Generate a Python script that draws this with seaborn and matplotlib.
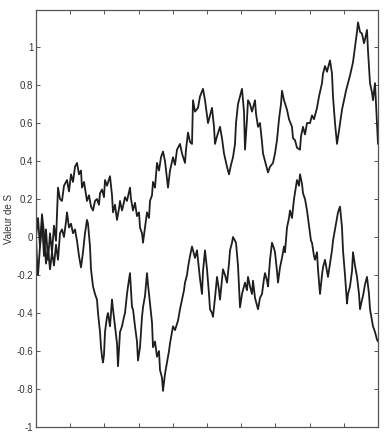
import matplotlib
matplotlib.use("Agg")
import matplotlib.pyplot as plt
import seaborn as sns
import numpy as np
import pandas as pd

# Series A (ends high) : position along axis (0..342) and value of S
pos_a = [0, 2, 4, 6, 8, 10, 12, 14, 16, 18, 20, 22, 24, 26, 28, 31, 33, 35, 37, 39, 41, 43, 45, 46, 48,
         51, 53, 55, 57, 59, 61, 63, 64, 66, 68, 69, 71, 74, 76, 77, 79, 81, 83, 84, 86, 87, 89, 91, 94,
         95, 97, 99, 101, 103, 104, 106, 107, 109, 111, 113, 114, 116, 117, 119, 121, 123, 125, 127, 129,
         132, 134, 137, 139, 141, 144, 146, 149, 150, 152, 154, 156, 157, 159, 162, 164, 167, 169, 172,
         174, 176, 178, 179, 181, 184, 186, 188, 191, 193, 195, 197, 199, 200, 202, 204, 206, 208, 209,
         211, 212, 214, 216, 219, 220, 222, 224, 226, 227, 229, 232, 234, 237, 239, 241, 243, 245, 246,
         248, 251, 253, 256, 257, 259, 261, 264, 265, 267, 269, 271, 274, 276, 278, 281, 283, 286, 287,
         289, 291, 294, 296, 297, 299, 301, 303, 306, 308, 310, 312, 314, 317, 319, 321, 322, 324, 326,
         328, 329, 331, 332, 334, 336, 337, 339, 340, 341, 342]
val_a = [0.00, 0.10, -0.05, 0.08, -0.10, 0.04, -0.12, 0.02, -0.08, 0.06, -0.02, 0.26, 0.20, 0.19, 0.27,
         0.30, 0.24, 0.33, 0.29, 0.37, 0.39, 0.33, 0.35, 0.26, 0.29, 0.19, 0.22, 0.16, 0.14, 0.19, 0.20,
         0.17, 0.23, 0.25, 0.21, 0.30, 0.27, 0.32, 0.22, 0.13, 0.17, 0.09, 0.15, 0.19, 0.14, 0.16, 0.21,
         0.19, 0.26, 0.20, 0.14, 0.18, 0.11, 0.13, 0.05, 0.02, -0.03, 0.05, 0.13, 0.10, 0.19, 0.22, 0.29,
         0.26, 0.39, 0.35, 0.42, 0.45, 0.40, 0.26, 0.35, 0.42, 0.38, 0.46, 0.49, 0.44, 0.39, 0.46, 0.55,
         0.50, 0.49, 0.72, 0.66, 0.68, 0.74, 0.78, 0.72, 0.60, 0.64, 0.68, 0.58, 0.49, 0.53, 0.58, 0.52,
         0.44, 0.37, 0.33, 0.38, 0.42, 0.49, 0.60, 0.70, 0.74, 0.78, 0.66, 0.46, 0.62, 0.72, 0.70, 0.66,
         0.72, 0.65, 0.58, 0.60, 0.50, 0.44, 0.40, 0.34, 0.37, 0.39, 0.44, 0.51, 0.62, 0.70, 0.77, 0.72,
         0.67, 0.62, 0.58, 0.52, 0.51, 0.47, 0.46, 0.53, 0.58, 0.54, 0.60, 0.60, 0.64, 0.62, 0.68, 0.74,
         0.81, 0.86, 0.90, 0.87, 0.93, 0.86, 0.74, 0.60, 0.49, 0.56, 0.67, 0.72, 0.77, 0.81, 0.85, 0.92,
         1.00, 1.08, 1.13, 1.08, 1.07, 1.02, 1.04, 1.09, 0.98, 0.81, 0.76, 0.72, 0.81, 0.70, 0.58, 0.49]

# Series B (ends low)
pos_b = [0, 1, 2, 4, 6, 8, 10, 12, 14, 16, 18, 20, 22, 24, 26, 28, 30, 31, 33, 35, 37, 39, 41, 43, 45,
         47, 49, 51, 52, 54, 55, 57, 59, 61, 62, 64, 65, 66, 67, 68, 69, 71, 72, 74, 76, 77, 79, 81, 82,
         84, 86, 88, 89, 91, 92, 94, 96, 97, 99, 101, 102, 104, 106, 107, 109, 111, 112, 114, 116, 117,
         119, 121, 123, 124, 126, 127, 129, 131, 133, 134, 136, 137, 139, 142, 144, 146, 148, 149, 151,
         152, 154, 156, 158, 159, 161, 162, 164, 166, 167, 169, 171, 173, 174, 176, 177, 179, 181, 183,
         184, 186, 187, 189, 191, 193, 194, 196, 197, 199, 200, 202, 204, 206, 209, 211, 212, 214, 216,
         217, 219, 222, 224, 226, 228, 229, 231, 232, 234, 236, 238, 239, 241, 242, 244, 246, 248, 249,
         251, 253, 254, 256, 258, 261, 263, 264, 266, 267, 269, 271, 273, 275, 276, 278, 279, 281, 282,
         284, 286, 287, 289, 291, 292, 294, 296, 297, 299, 301, 302, 304, 306, 307, 309, 311, 312, 314,
         316, 317, 319, 321, 323, 324, 326, 327, 329, 331, 333, 334, 336, 337, 339, 341, 342]
val_b = [0.00, -0.12, -0.20, -0.05, 0.12, 0.02, -0.14, -0.06, -0.17, -0.08, -0.15, -0.04, -0.12, 0.02,
         0.04, 0.00, 0.08, 0.13, 0.05, 0.07, 0.02, 0.04, -0.02, -0.10, -0.16, -0.08, 0.02, 0.09, 0.07,
         -0.05, -0.17, -0.26, -0.30, -0.33, -0.40, -0.50, -0.58, -0.63, -0.66, -0.62, -0.50, -0.42, -0.40,
         -0.47, -0.33, -0.38, -0.47, -0.56, -0.68, -0.50, -0.47, -0.42, -0.40, -0.30, -0.26, -0.19, -0.37,
         -0.38, -0.47, -0.55, -0.65, -0.58, -0.42, -0.37, -0.31, -0.19, -0.25, -0.35, -0.45, -0.58, -0.55,
         -0.63, -0.60, -0.70, -0.74, -0.81, -0.72, -0.66, -0.60, -0.56, -0.50, -0.47, -0.49, -0.44, -0.38,
         -0.33, -0.28, -0.24, -0.20, -0.16, -0.10, -0.05, -0.09, -0.11, -0.07, -0.12, -0.22, -0.30, -0.18,
         -0.07, -0.17, -0.30, -0.38, -0.40, -0.42, -0.32, -0.21, -0.28, -0.33, -0.22, -0.17, -0.20, -0.24,
         -0.14, -0.07, -0.03, 0.00, -0.02, -0.03, -0.15, -0.37, -0.30, -0.24, -0.28, -0.21, -0.26, -0.30,
         -0.23, -0.32, -0.38, -0.32, -0.30, -0.22, -0.19, -0.23, -0.26, -0.12, -0.03, -0.06, -0.08, -0.18,
         -0.24, -0.16, -0.11, -0.05, -0.08, 0.05, 0.10, 0.14, 0.10, 0.20, 0.30, 0.27, 0.33, 0.28, 0.23,
         0.20, 0.14, 0.06, -0.02, -0.03, -0.10, -0.12, -0.08, -0.17, -0.30, -0.20, -0.16, -0.12, -0.18,
         -0.21, -0.14, -0.07, -0.02, 0.04, 0.10, 0.13, 0.16, 0.05, -0.07, -0.20, -0.35, -0.30, -0.26,
         -0.18, -0.08, -0.15, -0.21, -0.30, -0.38, -0.33, -0.31, -0.25, -0.21, -0.30, -0.38, -0.44, -0.47,
         -0.50, -0.54, -0.55]

y_ticks = [-1, -0.8, -0.6, -0.4, -0.2, 0, 0.2, 0.4, 0.6, 0.8, 1]
y_tick_labels = ["-1", "-0.8", "-0.6", "-0.4", "-0.2", "0", "0.2", "0.4", "0.6", "0.8", "1"]
y_label = "Valeur de S"

n = min(len(pos_a), len(val_a))
m = min(len(pos_b), len(val_b))
df_a = pd.DataFrame({"pos": pos_a[:n], "S": val_a[:n]})
df_b = pd.DataFrame({"pos": pos_b[:m], "S": val_b[:m]})

sns.set_style("white")
plt.rcParams["font.family"] = ["Liberation Sans", "DejaVu Sans"]

fig = plt.figure(figsize=(3.84, 4.33), dpi=100)
ax = fig.add_axes([36 / 384, 6 / 433, 342 / 384, 417 / 433])

sns.lineplot(data=df_a, x="pos", y="S", ax=ax, color="#1e1e1e", linewidth=1.3,
             estimator=None, sort=False)
sns.lineplot(data=df_b, x="pos", y="S", ax=ax, color="#1e1e1e", linewidth=1.3,
             estimator=None, sort=False)

ax.set_xlim(0, 342)
ax.set_ylim(-1, 1.195)
ax.set_xticks(np.linspace(0, 342, 11))
ax.set_xticklabels([])
ax.set_yticks(y_ticks)
ax.set_yticklabels(y_tick_labels)
ax.set_xlabel("")
ax.set_ylabel(y_label, fontsize=7, color="#333333", labelpad=2)

ax.tick_params(axis="both", direction="in", length=3, width=0.7, color="#555555",
               top=True, right=True, bottom=True, left=True, labelsize=7, labelcolor="#333333", pad=2)
for sp in ax.spines.values():
    sp.set_color("#555555")
    sp.set_linewidth(0.9)
    sp.set_visible(True)

fig.savefig("out.png", dpi=100)
